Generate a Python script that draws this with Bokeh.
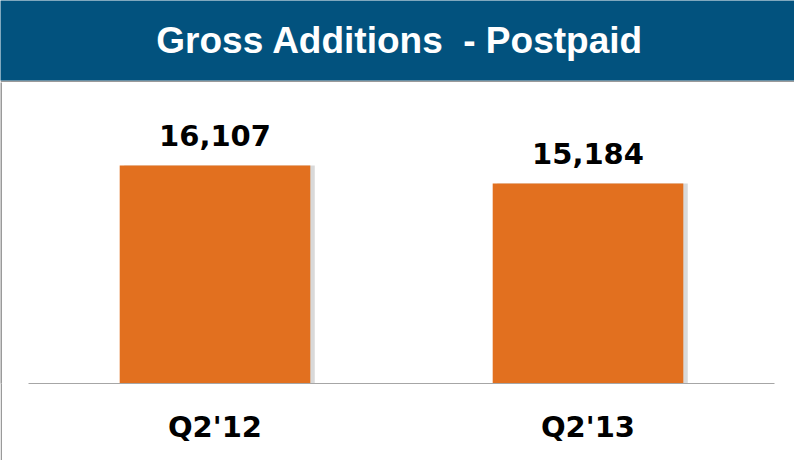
from bokeh.plotting import figure
from bokeh.models import Range1d, FactorRange, ColumnDataSource
from bokeh.layouts import column, row
from bokeh.transform import dodge
from bokeh.core.properties import value
from bokeh.embed import file_html
from bokeh.resources import INLINE

title_text = "Gross Additions  - Postpaid"
categories = ["Q2'12", "Q2'13"]
gross_additions = [16107, 15184]
value_labels = ["16,107", "15,184"]
y_start = 5000
y_end = 20336

BLUE = "#02527E"
ORANGE = "#E2701F"
GRAY = "#9a9a9a"

src = ColumnDataSource(dict(cat=categories, val=gross_additions, lbl=value_labels))

head = figure(width=794, height=82, x_range=Range1d(0, 1), y_range=Range1d(0, 1),
              output_backend="svg", toolbar_location=None,
              x_axis_location=None, y_axis_location=None,
              min_border_left=0, min_border_right=0, min_border_top=0, min_border_bottom=2,
              background_fill_color=BLUE, border_fill_color=GRAY, outline_line_color=None)
head.grid.visible = False
# keep the double space visible in SVG
shown_title = title_text.replace("  ", " \u00a0")
head.text(x=[0.503], y=[0.495], text=[shown_title], text_font=value("Liberation Sans"),
          text_font_style="bold", text_font_size="37px", text_color="white",
          text_align="center", text_baseline="alphabetic")

strip = figure(width=2, height=378, x_range=Range1d(0, 1), y_range=Range1d(0, 1),
               output_backend="svg", toolbar_location=None,
               x_axis_location=None, y_axis_location=None,
               min_border=0, background_fill_color=GRAY, border_fill_color=GRAY,
               outline_line_color=None)
strip.grid.visible = False

p = figure(width=792, height=378,
           x_range=FactorRange(factors=categories, range_padding=0),
           y_range=Range1d(y_start, y_end),
           output_backend="svg", toolbar_location=None, y_axis_location=None,
           min_border_left=26, min_border_right=20, min_border_top=0, min_border_bottom=77,
           background_fill_color="white", border_fill_color="white", outline_line_color=None)
p.grid.visible = False

p.vbar(x=dodge('cat', 0.012, range=p.x_range), top='val', bottom=y_start, width=0.511,
       source=src, fill_color="#000000", fill_alpha=0.15, line_color=None)
p.vbar(x='cat', top='val', bottom=y_start, width=0.511, source=src,
       fill_color=ORANGE, line_color=None)
p.text(x='cat', y='val', text='lbl', source=src, y_offset=-30,
       text_align="center", text_baseline="alphabetic",
       text_font=value("DejaVu Sans"), text_font_style="bold",
       text_font_size="29px", text_color="black")

ax = p.xaxis[0]
ax.axis_line_color = "#A6A6A6"
ax.axis_line_width = 1
ax.major_tick_line_color = None
ax.minor_tick_line_color = None
ax.major_tick_out = 0
ax.major_tick_in = 0
ax.major_label_text_font = "DejaVu Sans"
ax.major_label_text_font_style = "bold"
ax.major_label_text_font_size = "29px"
ax.major_label_text_color = "black"
ax.major_label_standoff = 26

layout = column(head, row(strip, p, spacing=0), spacing=0)

open("out.html", "w").write(file_html(layout, INLINE))
